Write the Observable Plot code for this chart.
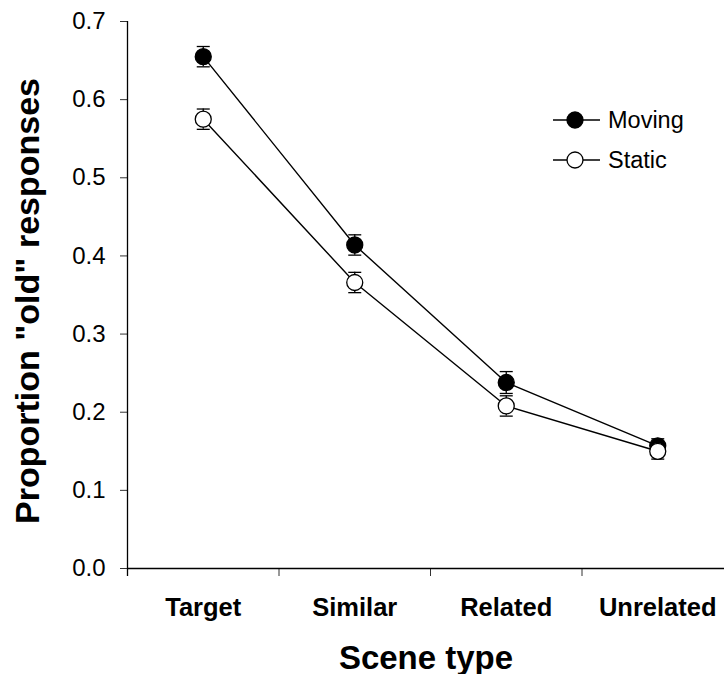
<!DOCTYPE html>
<html>
<head>
<meta charset="utf-8">
<script src="https://cdn.jsdelivr.net/npm/d3@7"></script>
<script src="https://cdn.jsdelivr.net/npm/@observablehq/plot@0.6"></script>
<style>
  html, body { margin: 0; padding: 0; background: #fff; }
  #wrap { position: relative; width: 724px; height: 674px; font-family: "Liberation Sans", Arial, sans-serif; }
  #legend { position: absolute; left: 548px; top: 104px; }
  #legend text { font-family: "Liberation Sans", Arial, sans-serif; font-size: 23.5px; }
</style>
</head>
<body>
<div id="wrap"></div>
<script>
// ---- data ----
const categories = ["Target", "Similar", "Related", "Unrelated"];
const movingMean = [0.655, 0.414, 0.238, 0.157];
const movingErr  = [0.013, 0.013, 0.014, 0.009];
const staticMean = [0.575, 0.366, 0.208, 0.150];
const staticErr  = [0.013, 0.013, 0.013, 0.010];
const yTicks = [0, 0.1, 0.2, 0.3, 0.4, 0.5, 0.6, 0.7];
const seriesNames = ["Moving", "Static"];
const seriesFill = ["black", "white"];

const rows = [];
[[movingMean, movingErr], [staticMean, staticErr]].forEach(([m, e], s) => {
  categories.forEach((c, i) => {
    rows.push({series: seriesNames[s], fill: seriesFill[s], pos: i + 0.5, cat: c,
               y: m[i], lo: m[i] - e[i], hi: m[i] + e[i]});
  });
});

const capSymbol = {
  draw(context, size) {
    const w = Math.sqrt(size / Math.PI);
    context.moveTo(-w, 0);
    context.lineTo(w, 0);
  }
};

const centers = categories.map((c, i) => i + 0.5);
const bounds = categories.slice(1).map((c, i) => i + 1);

const chart = Plot.plot({
  width: 724,
  height: 674,
  marginLeft: 127,
  marginTop: 21,
  marginBottom: 106,
  marginRight: 0,
  style: {fontFamily: "Liberation Sans, Arial, sans-serif", background: "white", color: "black"},
  x: {type: "linear", domain: [0, 4], range: [127, 733]},
  y: {domain: [0, 0.7]},
  marks: [
    Plot.axisY({ticks: yTicks, tickFormat: d3.format(".1f"), tickSize: 7, tickPadding: 15,
      fontSize: 24, label: "Proportion \"old\" responses", labelAnchor: "center", labelArrow: "none",
      labelOffset: 113, stroke: "#333"}),
    Plot.axisX({ticks: centers, tickFormat: d => categories[Math.floor(d)], tickSize: 0,
      tickPadding: 29, fontSize: 25.5, fontWeight: "bold", label: "Scene type", labelArrow: "none",
      labelAnchor: "center", labelOffset: 100}),
    Plot.axisX({ticks: bounds, tickFormat: () => "", tickSize: 8, label: null, stroke: "#333"}),
    Plot.ruleY([0], {stroke: "black", strokeWidth: 1.3}),
    Plot.ruleX([0], {y1: 0.7, y2: 0, insetBottom: -8, stroke: "black", strokeWidth: 1.3}),
    Plot.line(rows, {x: "pos", y: "y", z: "series", stroke: "black", strokeWidth: 1.4}),
    Plot.ruleX(rows, {x: "pos", y1: "lo", y2: "hi", stroke: "black", strokeWidth: 1.3}),
    Plot.dot(rows, {x: "pos", y: "lo", symbol: capSymbol, r: 6.5, stroke: "black", strokeWidth: 1.3}),
    Plot.dot(rows, {x: "pos", y: "hi", symbol: capSymbol, r: 6.5, stroke: "black", strokeWidth: 1.3}),
    Plot.dot(rows, {x: "pos", y: "y", r: 8, fill: "fill", stroke: "black", strokeWidth: 1.3})
  ]
});

// axis titles bold and larger
d3.select(chart).selectAll("[aria-label='x-axis label'], [aria-label='x-axis label'] text")
  .attr("font-size", 33).attr("font-weight", "bold");
d3.select(chart).selectAll("[aria-label='y-axis label'], [aria-label='y-axis label'] text")
  .attr("font-size", 34).attr("font-weight", "bold");
d3.select(chart).selectAll("[aria-label='y-axis label'] text").attr("dx", -6);

const wrap = document.getElementById("wrap");
wrap.appendChild(chart);

// legend
const lg = d3.select(wrap).append("svg").attr("id", "legend").attr("width", 170).attr("height", 80);
seriesNames.forEach((name, k) => {
  const g = lg.append("g").attr("transform", `translate(0, ${16 + k * 40})`);
  g.append("line").attr("x1", 5).attr("x2", 52).attr("y1", 0).attr("y2", 0).attr("stroke", "black").attr("stroke-width", 1.3);
  g.append("circle").attr("cx", 27).attr("cy", 0).attr("r", 8).attr("fill", seriesFill[k]).attr("stroke", "black").attr("stroke-width", 1.3);
  g.append("text").attr("x", 60).attr("y", 0).attr("dy", "0.35em").text(name);
});
</script>
</body>
</html>
